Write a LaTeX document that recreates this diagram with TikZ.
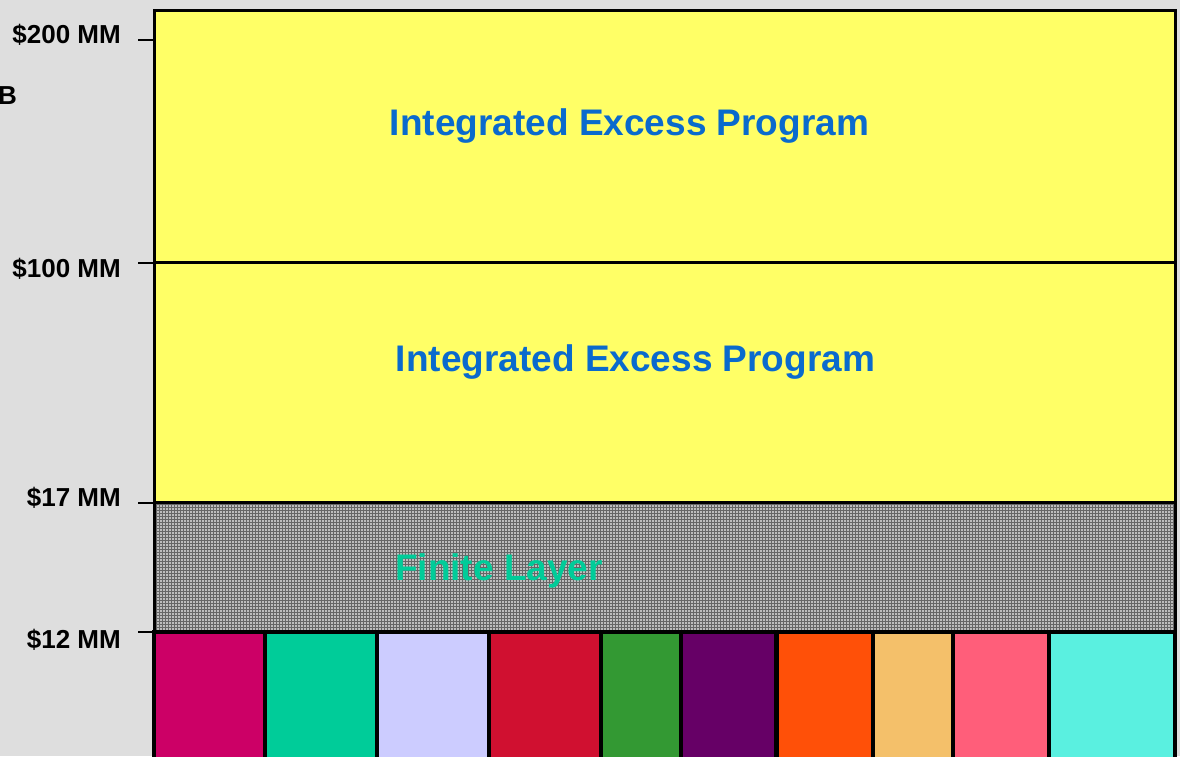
\documentclass[tikz,border=0pt]{standalone}
\usepackage{fontspec}
\setmainfont{Liberation Sans}
\usetikzlibrary{patterns}

\definecolor{bgpanel}{HTML}{DEDEDE}
\definecolor{layeryellow}{HTML}{FFFF66}
\definecolor{layergray}{HTML}{BDBDBD}
\definecolor{titleblue}{HTML}{0A6ACD}
\definecolor{finiteteal}{HTML}{00CC99}
\definecolor{cA}{HTML}{CC0066}
\definecolor{cB}{HTML}{00CC99}
\definecolor{cC}{HTML}{CCCCFF}
\definecolor{cD}{HTML}{D01030}
\definecolor{cE}{HTML}{339933}
\definecolor{cF}{HTML}{660066}
\definecolor{cG}{HTML}{FF5008}
\definecolor{cH}{HTML}{F4C06A}
\definecolor{cI}{HTML}{FF5E7A}
\definecolor{cJ}{HTML}{5AF0E0}

\tikzset{
  axislabel/.style={font=\bfseries\fontsize{26}{29}\selectfont, inner sep=0pt},
  layertitle/.style={font=\bfseries\fontsize{37}{41}\selectfont, inner sep=0pt},
  tick/.style={line width=2.5pt},
  frame/.style={line width=3pt},
  bar/.style={draw=black, line width=4.5pt},
}

\begin{document}
\begin{tikzpicture}[x=1pt,y=-1pt]
  \useasboundingbox (0,0) rectangle (1180,756);
  \clip (0,0) rectangle (1180,756);
  \fill[bgpanel] (0,0) rectangle (1180,756);

  % layers of the programme tower
  \fill[layeryellow] (154,10) rectangle (1175,262);
  \fill[layeryellow] (154,262) rectangle (1175,502);
  \fill[layergray] (154,502) rectangle (1175,632);
  \fill[pattern=grid, pattern color=black!60] (154,502) rectangle (1175,632);

  % primary coverage bars
  \foreach \xa/\xb/\c in {154/265/cA, 265/377/cB, 377/489/cC, 489/601/cD,
                          601/681/cE, 681/776.5/cF, 776.5/873/cG, 873/953/cH,
                          953/1049/cI, 1049/1175/cJ}
    \filldraw[bar, fill=\c] (\xa,632) rectangle (\xb,790);

  % layer dividers and outer frame
  \draw[frame] (154,262) -- (1175,262);
  \draw[frame] (154,502) -- (1175,502);
  \draw[line width=4pt] (154,632) -- (1175,632);
  \draw[frame] (154,790) -- (154,10) -- (1175,10) -- (1175,790);

  % axis ticks
  \coordinate (t200) at (138,40);
  \coordinate (t100) at (138,263);
  \coordinate (t17) at (138,503);
  \coordinate (t12) at (138,632);
  \draw[tick] (t200) -- (154,40);
  \draw[tick] (t100) -- (154,263);
  \draw[tick] (t17) -- (167,503);
  \draw[tick] (t12) -- (154,632);

  % axis labels
  \node[axislabel, anchor=base east] (l200) at (121,43) {\$200 MM};
  \node[axislabel, anchor=base east] (l100) at (121,277) {\$100 MM};
  \node[axislabel, anchor=base east] (l17) at (121,506) {\$17 MM};
  \node[axislabel, anchor=base east] (l12) at (121,648) {\$12 MM};
  \node[axislabel, anchor=base west] (lb) at (-2,104) {B};

  % layer titles
  \node[layertitle, text=titleblue, anchor=base] (upper) at (629.5,135) {Integrated Excess Program};
  \node[layertitle, text=titleblue, anchor=base] (lower) at (635.5,371) {Integrated Excess Program};
  \node[layertitle, text=finiteteal, anchor=base] (finite) at (499,580) {Finite Layer};
\end{tikzpicture}
\end{document}
